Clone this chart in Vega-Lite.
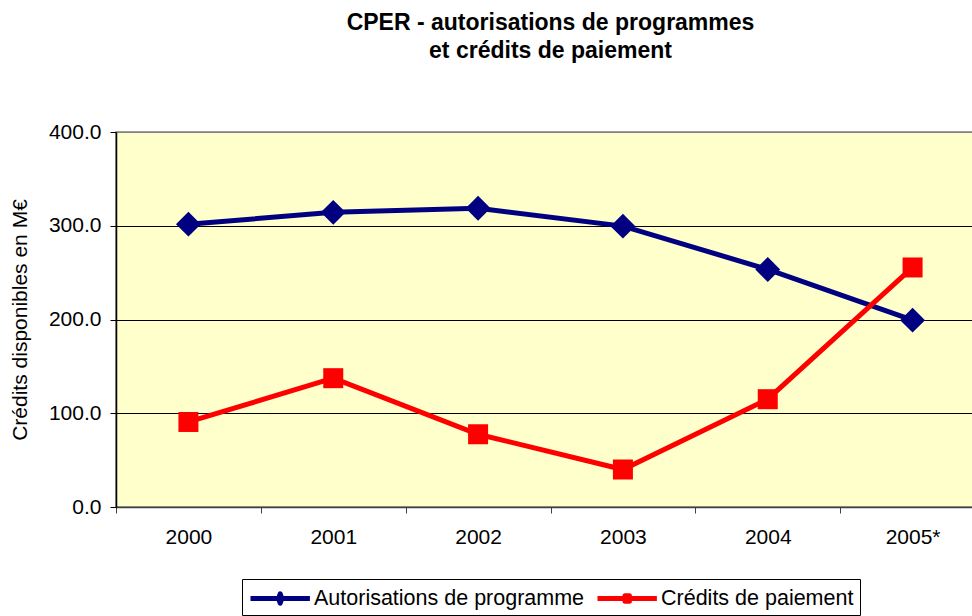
{
  "$schema": "https://vega.github.io/schema/vega-lite/v6.json",
  "autosize": "none",
  "width": 869,
  "height": 375,
  "padding": {"left": 116, "top": 132, "right": 0, "bottom": 109},
  "background": "white",
  "title": {
    "text": ["CPER - autorisations de programmes", "et crédits de paiement"],
    "font": "Liberation Sans",
    "fontSize": 23,
    "fontWeight": "bold",
    "color": "black",
    "anchor": "middle",
    "lineHeight": 28,
    "offset": 58
  },
  "config": {
    "view": {"fill": "#FFFFCC", "stroke": "#808080", "strokeWidth": 1.5},
    "font": "Liberation Sans"
  },
  "data": {
    "values": [
      {"annee": "2000", "serie": "Autorisations de programme", "valeur": 301.7},
      {"annee": "2001", "serie": "Autorisations de programme", "valeur": 314.3},
      {"annee": "2002", "serie": "Autorisations de programme", "valeur": 318.6},
      {"annee": "2003", "serie": "Autorisations de programme", "valeur": 299.6},
      {"annee": "2004", "serie": "Autorisations de programme", "valeur": 253.4},
      {"annee": "2005*", "serie": "Autorisations de programme", "valeur": 199.3},
      {"annee": "2000", "serie": "Crédits de paiement", "valeur": 90.7},
      {"annee": "2001", "serie": "Crédits de paiement", "valeur": 137.4},
      {"annee": "2002", "serie": "Crédits de paiement", "valeur": 77.6},
      {"annee": "2003", "serie": "Crédits de paiement", "valeur": 40.0},
      {"annee": "2004", "serie": "Crédits de paiement", "valeur": 115.0},
      {"annee": "2005*", "serie": "Crédits de paiement", "valeur": 255.5}
    ]
  },
  "encoding": {
    "x": {
      "field": "annee",
      "type": "ordinal",
      "sort": null,
      "scale": {"type": "band", "paddingInner": 0, "paddingOuter": 0},
      "axis": {
        "title": null,
        "labelAngle": 0,
        "labelFont": "Liberation Sans",
        "labelFontSize": 21,
        "labelColor": "black",
        "labelPadding": 13,
        "tickBand": "extent",
        "tickSize": 6,
        "tickColor": "#404040",
        "domainColor": "#404040",
        "domainWidth": 1.5,
        "grid": false
      }
    },
    "y": {
      "field": "valeur",
      "type": "quantitative",
      "scale": {"domain": [0, 400], "nice": false},
      "axis": {
        "title": "Crédits disponibles en M€",
        "titleFont": "Liberation Sans",
        "titleFontSize": 21,
        "titleFontWeight": "normal",
        "titleColor": "black",
        "titlePadding": 18,
        "values": [0, 100, 200, 300, 400],
        "format": ".1f",
        "labelFont": "Liberation Sans",
        "labelFontSize": 21,
        "labelColor": "black",
        "labelPadding": 9,
        "tickSize": 6,
        "tickColor": "black",
        "domainColor": "black",
        "domainWidth": 1.5,
        "grid": true,
        "gridColor": {"condition": {"test": "datum.value === 400", "value": "#808080"}, "value": "black"},
        "gridWidth": 1,
        "gridOpacity": 1
      }
    }
  },
  "layer": [
    {
      "mark": {"type": "line", "strokeWidth": 5},
      "encoding": {
        "color": {
          "field": "serie",
          "type": "nominal",
          "scale": {"domain": ["Autorisations de programme", "Crédits de paiement"], "range": ["#000080", "#FF0000"]},
          "legend": {
            "title": null,
            "orient": "none",
            "legendX": 126,
            "legendY": 447,
            "direction": "horizontal",
            "strokeColor": "black",
            "fillColor": "white",
            "padding": 6,
            "labelFont": "Liberation Sans",
            "labelFontSize": 21.5,
            "labelColor": "black",
            "labelOffset": 39,
            "labelLimit": 500,
            "columnPadding": 10,
            "symbolSize": 484,
            "symbolStrokeWidth": 5,
            "symbolType": "stroke",
            "encode": {
              "symbols": {
                "update": {
                  "shape": {"signal": "datum.value === 'Autorisations de programme' ? 'M-1,0H4.4M1.7,-0.42L1.85,0L1.7,0.42L1.55,0Z' : 'M-1,0H4.4M1.5,-0.25H1.9V0.25H1.5Z'"},
                  "fill": {"signal": "datum.value === 'Autorisations de programme' ? '#000080' : '#FF0000'"},
                  "fillOpacity": {"value": 1},
                  "strokeJoin": {"value": "round"}
                }
              }
            }
          }
        }
      }
    },
    {
      "mark": {"type": "point", "filled": true, "opacity": 1},
      "encoding": {
        "color": {
          "field": "serie",
          "type": "nominal",
          "scale": {"domain": ["Autorisations de programme", "Crédits de paiement"], "range": ["#000080", "#FF0000"]},
          "legend": null
        },
        "shape": {
          "field": "serie",
          "type": "nominal",
          "scale": {"domain": ["Autorisations de programme", "Crédits de paiement"], "range": ["diamond", "square"]},
          "legend": null
        },
        "size": {
          "field": "serie",
          "type": "nominal",
          "scale": {"domain": ["Autorisations de programme", "Crédits de paiement"], "range": [620, 400]},
          "legend": null
        }
      }
    }
  ],
  "resolve": {"scale": {"color": "independent", "shape": "independent", "size": "independent"}, "legend": {"color": "independent"}}
}
